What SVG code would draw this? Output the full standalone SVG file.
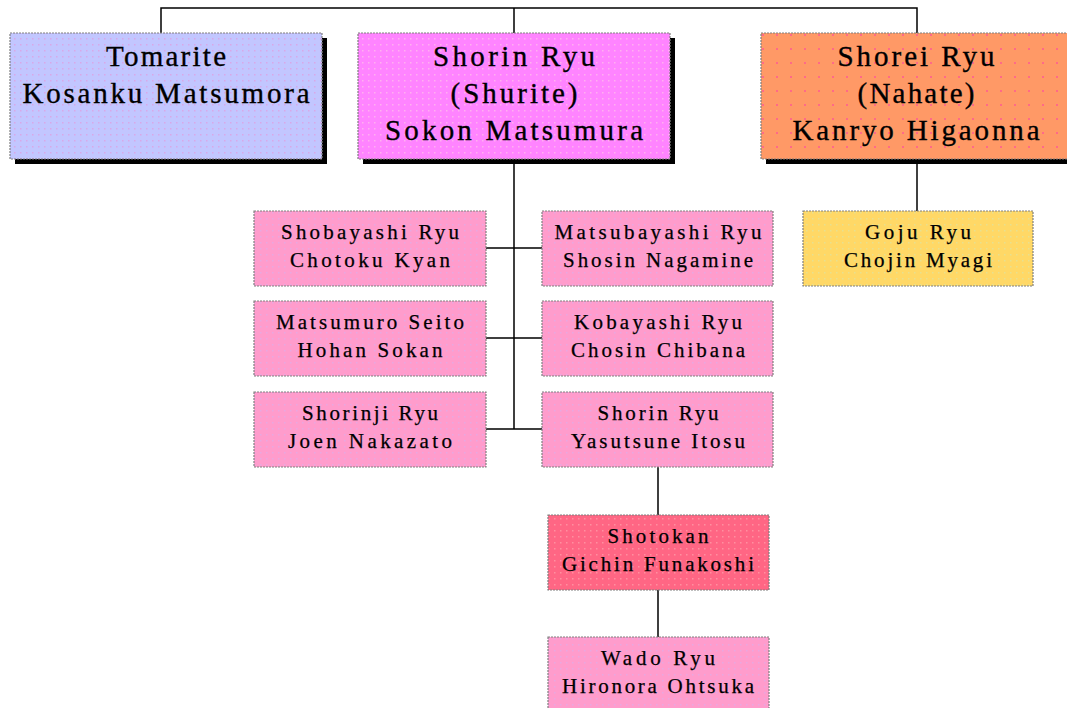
<svg xmlns="http://www.w3.org/2000/svg" width="1067" height="708" viewBox="0 0 1067 708">
<style>
.bx{stroke:#808080;stroke-width:1.2;stroke-dasharray:2 1}
.sh{fill:#000}
.t1{font-family:"Liberation Serif","Times New Roman",serif;font-size:29px;fill:#000;stroke:#000;stroke-width:0.35;text-anchor:middle}
.t2{font-family:"Liberation Serif","Times New Roman",serif;font-size:21px;fill:#000;stroke:#000;stroke-width:0.25;text-anchor:middle}
.ln{stroke:#000;stroke-width:1.5;fill:none}
</style>
<defs>
<pattern id="pBlue" width="6" height="6" patternUnits="userSpaceOnUse"><rect width="6" height="6" fill="#c2c6ff"/><rect x="2" y="2" width="1.5" height="1.5" fill="#d8a8e8"/></pattern>
<pattern id="pMag" width="6" height="6" patternUnits="userSpaceOnUse"><rect width="6" height="6" fill="#ff84ff"/><rect x="2" y="2" width="1.5" height="1.5" fill="#ffb0f0"/></pattern>
<pattern id="pOr" width="14" height="14" patternUnits="userSpaceOnUse"><rect width="14" height="14" fill="#ff9966"/><rect x="6" y="6" width="2" height="2" fill="#ff6a88"/></pattern>
<pattern id="pPink" width="6" height="6" patternUnits="userSpaceOnUse"><rect width="6" height="6" fill="#ff9ccc"/><rect x="2" y="2" width="1.5" height="1.5" fill="#e8a8e0"/></pattern>
<pattern id="pRed" width="6" height="6" patternUnits="userSpaceOnUse"><rect width="6" height="6" fill="#ff6684"/><rect x="2" y="2" width="1.5" height="1.5" fill="#ff90a0"/></pattern>
<pattern id="pYel" width="6" height="6" patternUnits="userSpaceOnUse"><rect width="6" height="6" fill="#ffd866"/><rect x="2" y="2" width="1.5" height="1.5" fill="#e8e090"/></pattern>
</defs>
<rect width="1067" height="708" fill="#fff"/>
<g id="connectors">
<path class="ln" d="M161 33V8H917V33M514 8V33"/>
<path class="ln" d="M514 163V429M486 248H542M486 338H542M486 429H542"/>
<path class="ln" d="M917 164V211"/>
<path class="ln" d="M658 467V515M658 590V637"/>
</g>
<g id="tomarite">
<rect class="sh" x="15" y="38" width="312" height="126"/>
<rect class="bx" x="10" y="33" width="312" height="126" fill="url(#pBlue)"/>
<text class="t1" x="166" y="66" textLength="120" lengthAdjust="spacing">Tomarite</text>
<text class="t1" x="166" y="103" textLength="287" lengthAdjust="spacing">Kosanku Matsumora</text>
</g>
<g id="shorin">
<rect class="sh" x="363" y="38" width="312" height="126"/>
<rect class="bx" x="358" y="33" width="312" height="126" fill="url(#pMag)"/>
<text class="t1" x="514" y="66" textLength="162" lengthAdjust="spacing">Shorin Ryu</text>
<text class="t1" x="514" y="103" textLength="127" lengthAdjust="spacing">(Shurite)</text>
<text class="t1" x="514" y="140" textLength="258" lengthAdjust="spacing">Sokon Matsumura</text>
</g>
<g id="shorei">
<rect class="sh" x="766" y="38" width="312" height="126"/>
<rect class="bx" x="761" y="33" width="312" height="126" fill="url(#pOr)"/>
<text class="t1" x="916" y="66" textLength="157" lengthAdjust="spacing">Shorei Ryu</text>
<text class="t1" x="916" y="103" textLength="117" lengthAdjust="spacing">(Nahate)</text>
<text class="t1" x="916" y="140" textLength="247" lengthAdjust="spacing">Kanryo Higaonna</text>
</g>
<g id="shobayashi">
<rect class="bx" x="254" y="211" width="232" height="75" fill="url(#pPink)"/>
<text class="t2" x="370" y="239" textLength="178" lengthAdjust="spacing">Shobayashi Ryu</text>
<text class="t2" x="370" y="267" textLength="160" lengthAdjust="spacing">Chotoku Kyan</text>
</g>
<g id="matsubayashi">
<rect class="bx" x="542" y="211" width="231" height="75" fill="url(#pPink)"/>
<text class="t2" x="658" y="239" textLength="207" lengthAdjust="spacing">Matsubayashi Ryu</text>
<text class="t2" x="658" y="267" textLength="190" lengthAdjust="spacing">Shosin Nagamine</text>
</g>
<g id="matsumuro">
<rect class="bx" x="254" y="301" width="232" height="75" fill="url(#pPink)"/>
<text class="t2" x="370" y="329" textLength="188" lengthAdjust="spacing">Matsumuro Seito</text>
<text class="t2" x="370" y="357" textLength="145" lengthAdjust="spacing">Hohan Sokan</text>
</g>
<g id="kobayashi">
<rect class="bx" x="542" y="301" width="231" height="75" fill="url(#pPink)"/>
<text class="t2" x="658" y="329" textLength="168" lengthAdjust="spacing">Kobayashi Ryu</text>
<text class="t2" x="658" y="357" textLength="174" lengthAdjust="spacing">Chosin Chibana</text>
</g>
<g id="shorinji">
<rect class="bx" x="254" y="392" width="232" height="75" fill="url(#pPink)"/>
<text class="t2" x="370" y="420" textLength="136" lengthAdjust="spacing">Shorinji Ryu</text>
<text class="t2" x="370" y="448" textLength="164" lengthAdjust="spacing">Joen Nakazato</text>
</g>
<g id="shorin-itosu">
<rect class="bx" x="542" y="392" width="231" height="75" fill="url(#pPink)"/>
<text class="t2" x="658" y="420" textLength="121" lengthAdjust="spacing">Shorin Ryu</text>
<text class="t2" x="658" y="448" textLength="174" lengthAdjust="spacing">Yasutsune Itosu</text>
</g>
<g id="shotokan">
<rect class="bx" x="548" y="515" width="221" height="75" fill="url(#pRed)"/>
<text class="t2" x="658" y="543" textLength="101" lengthAdjust="spacing">Shotokan</text>
<text class="t2" x="658" y="571" textLength="192" lengthAdjust="spacing">Gichin Funakoshi</text>
</g>
<g id="wado">
<rect class="bx" x="548" y="637" width="221" height="80" fill="url(#pPink)"/>
<text class="t2" x="658" y="665" textLength="114" lengthAdjust="spacing">Wado Ryu</text>
<text class="t2" x="658" y="693" textLength="192" lengthAdjust="spacing">Hironora Ohtsuka</text>
</g>
<g id="goju">
<rect class="bx" x="803" y="211" width="230" height="75" fill="url(#pYel)"/>
<text class="t2" x="918" y="239" textLength="106" lengthAdjust="spacing">Goju Ryu</text>
<text class="t2" x="918" y="267" textLength="148" lengthAdjust="spacing">Chojin Myagi</text>
</g>
</svg>
